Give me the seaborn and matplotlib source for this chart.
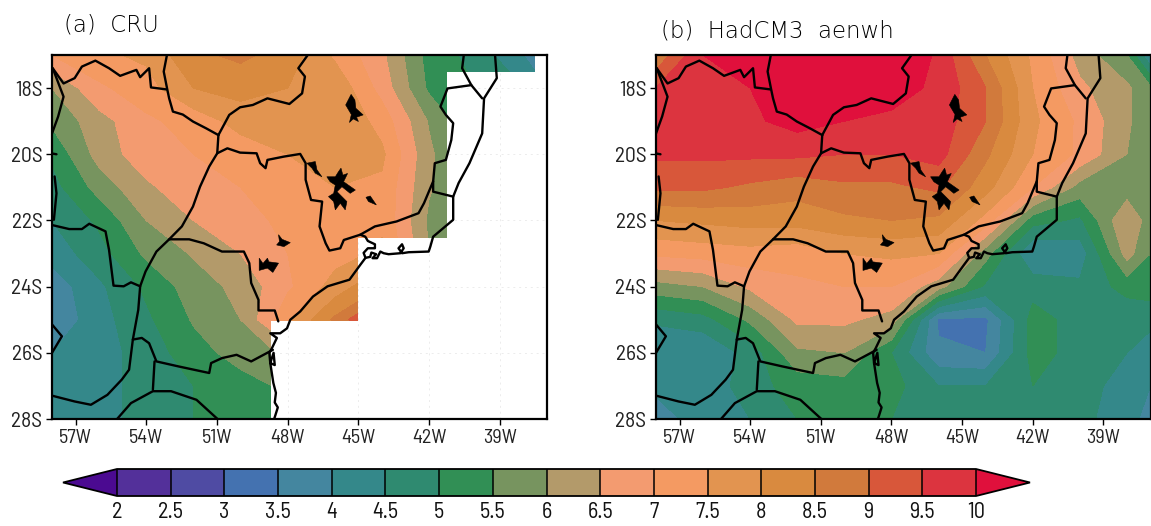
import numpy as np
import matplotlib
matplotlib.use('Agg')
import matplotlib.pyplot as plt
import seaborn as sns
from matplotlib.colors import ListedColormap, BoundaryNorm
from matplotlib.patches import Polygon

# grid nodes of the two fields
lons = [-58, -56, -54, -52, -50, -48, -46, -44, -42, -40, -38, -37]
lats = [-17, -18, -19, -20, -21, -22, -23, -24, -25, -26, -27, -28]

# precipitation values, one row per latitude
cru_values = [
    [7.0, 7.4, 7.6, 8.4, 8.6, 8.3, 7.4, 6.6, 5.3, 4.8, 4.0, 3.6],
    [6.0, 6.9, 7.3, 8.0, 8.2, 8.0, 7.9, 6.8, 5.4, 5.0, 4.5, 4.0],
    [5.6, 6.3, 6.9, 7.2, 7.7, 8.0, 8.0, 7.3, 5.95, 5.0, 4.6, 4.3],
    [5.1, 6.2, 6.8, 7.0, 7.2, 7.5, 7.9, 7.6, 6.1, 5.2, 5.0, 5.0],
    [4.8, 5.7, 6.4, 6.85, 7.0, 7.3, 7.5, 7.4, 6.05, 5.5, 5.0, 5.0],
    [4.5, 5.1, 6.0, 6.5, 6.85, 7.1, 7.4, 7.4, 5.9, 5.5, 5.0, 5.0],
    [4.2, 4.8, 5.6, 6.05, 6.5, 7.0, 7.3, 7.6, 6.0, 5.5, 5.0, 5.0],
    [3.7, 4.4, 5.1, 5.75, 6.15, 6.9, 7.7, 8.5, 6.0, 5.5, 5.0, 5.0],
    [3.6, 4.3, 4.9, 5.55, 6.0, 7.4, 8.6, 10.0, 6.0, 5.5, 5.0, 5.0],
    [4.0, 4.3, 4.7, 5.3, 5.7, 6.1, 7.0, 7.0, 6.0, 5.5, 5.0, 5.0],
    [4.2, 4.3, 4.7, 5.0, 5.3, 5.6, 6.0, 6.0, 6.0, 5.5, 5.0, 5.0],
    [4.0, 4.4, 4.6, 5.0, 5.2, 5.3, 5.5, 5.5, 5.5, 5.5, 5.0, 5.0],
]
hadcm3_values = [
    [8.6, 10.0, 10.1, 10.6, 10.7, 10.6, 9.9, 8.5, 7.4, 6.3, 5.5, 4.0],
    [9.5, 9.9, 10.0, 10.6, 10.5, 10.2, 9.9, 9.0, 7.5, 6.6, 6.1, 5.6],
    [9.6, 9.8, 9.9, 10.2, 10.0, 9.9, 9.8, 9.0, 7.6, 6.9, 6.1, 5.6],
    [9.6, 9.6, 9.6, 9.6, 9.5, 9.5, 9.7, 8.6, 7.5, 6.9, 6.0, 5.7],
    [9.1, 9.1, 8.9, 8.7, 8.9, 8.9, 9.1, 8.2, 7.0, 5.8, 5.7, 5.7],
    [8.0, 8.1, 8.2, 8.2, 8.4, 8.5, 8.4, 7.3, 5.2, 4.9, 6.5, 5.7],
    [7.1, 7.2, 7.3, 7.2, 7.5, 7.6, 7.5, 5.7, 4.0, 4.2, 6.2, 5.5],
    [5.8, 6.0, 6.6, 6.9, 7.0, 7.0, 6.2, 4.9, 4.8, 4.6, 5.2, 5.3],
    [4.6, 4.8, 5.6, 6.6, 6.6, 6.3, 3.4, 3.4, 5.2, 4.8, 4.6, 4.6],
    [4.0, 4.0, 4.7, 5.9, 6.0, 5.0, 3.6, 3.5, 5.2, 4.8, 4.5, 4.3],
    [4.1, 4.1, 4.8, 5.2, 5.3, 5.2, 4.5, 4.5, 5.0, 4.7, 4.3, 4.0],
    [3.8, 4.2, 4.5, 5.0, 5.1, 5.0, 4.7, 4.6, 4.8, 4.6, 4.3, 3.7],
]

levels = [2, 2.5, 3, 3.5, 4, 4.5, 5, 5.5, 6, 6.5, 7, 7.5, 8, 8.5, 9, 9.5, 10]
level_labels = ['2', '2.5', '3', '3.5', '4', '4.5', '5', '5.5', '6', '6.5',
                '7', '7.5', '8', '8.5', '9', '9.5', '10']
band_colors = ['#53309a', '#4f4ba3', '#4472b0', '#44869f', '#34888a', '#2f8a70',
               '#318f55', '#77945f', '#b39a6a', '#f39b70', '#f49a62', '#e29450',
               '#d98a3f', '#d17a3c', '#d8573a', '#dc343f']
under_color = '#4b0a91'
over_color = '#e0103c'

lon_ticks = [-57, -54, -51, -48, -45, -42, -39]
lon_labels = ['57W', '54W', '51W', '48W', '45W', '42W', '39W']
lat_ticks = [-18, -20, -22, -24, -26, -28]
lat_labels = ['18S', '20S', '22S', '24S', '26S', '28S']

# CRU only has data over land, this is the stepped edge of its grid
cru_domain = [(-58, -17), (-37.5, -17), (-37.5, -17.5), (-41.25, -17.5), (-41.25, -22.53),
              (-45, -22.53), (-45, -25.04), (-48.7, -25.04), (-48.7, -28), (-58, -28)]

# borders and coast, (lon, lat)
border_mt_ms = [(-57.97, -17.40), (-57.51, -17.86), (-57.04, -17.70), (-56.73, -17.35), (-56.16, -17.17),
                (-55.58, -17.40), (-55.11, -17.63), (-54.42, -17.45), (-54.26, -17.67), (-53.88, -17.40),
                (-53.80, -17.98), (-53.14, -18.04)]
border_go_ms = [(-53.11, -16.95), (-53.26, -17.50), (-53.11, -18.04), (-53.03, -18.31), (-52.87, -18.71),
                (-52.45, -18.80), (-52.02, -19.01), (-51.45, -19.22), (-50.94, -19.42)]
border_go_mg = [(-50.94, -19.42), (-50.48, -18.81), (-50.02, -18.58), (-49.48, -18.51), (-48.86, -18.31),
                (-47.93, -18.48), (-47.39, -18.16), (-47.27, -17.65), (-47.55, -17.40), (-47.10, -16.95)]
border_parana = [(-50.94, -19.42), (-50.99, -19.97), (-51.33, -20.37), (-51.72, -20.98), (-52.02, -21.58),
                 (-52.49, -22.18), (-53.03, -22.57), (-53.57, -22.94), (-54.03, -23.54), (-54.26, -23.99),
                 (-54.34, -24.70), (-54.57, -25.60), (-54.73, -26.51), (-55.04, -26.81), (-55.65, -27.27),
                 (-56.35, -27.57), (-57.04, -27.47), (-57.97, -27.30)]
border_sp_mg = [(-50.99, -19.97), (-50.56, -19.82), (-50.02, -19.95), (-49.32, -19.97), (-49.17, -20.27),
                (-48.94, -20.42), (-48.86, -20.17), (-48.16, -20.07), (-47.47, -19.99), (-47.24, -20.27),
                (-47.24, -20.77), (-47.01, -21.38), (-46.54, -21.43), (-46.65, -22.18), (-46.39, -22.69),
                (-46.23, -22.91), (-45.77, -22.84), (-45.62, -22.59), (-44.92, -22.43), (-44.30, -22.18),
                (-43.38, -22.03), (-42.45, -21.78), (-42.22, -21.48), (-41.83, -20.82), (-41.76, -20.27),
                (-41.29, -20.17), (-41.06, -19.57), (-40.98, -19.06), (-41.29, -18.81), (-41.52, -18.56),
                (-41.22, -18.01), (-40.21, -17.91), (-39.75, -18.31)]
coast = [(-39.21, -16.95), (-39.13, -17.70), (-39.67, -18.31), (-39.75, -19.37), (-40.29, -20.27),
         (-40.75, -20.87), (-40.98, -21.28), (-40.98, -21.98), (-41.83, -22.49), (-41.95, -22.79),
         (-42.02, -22.94), (-42.87, -22.96), (-43.15, -22.99), (-43.30, -22.84), (-43.15, -22.72),
         (-43.08, -22.84), (-43.22, -22.99), (-43.72, -23.02), (-43.93, -22.99), (-44.07, -22.94),
         (-44.21, -23.14), (-44.40, -23.14), (-44.25, -23.02), (-44.45, -22.97), (-44.50, -23.10),
         (-44.70, -23.13), (-44.92, -23.34), (-45.38, -23.79), (-46.31, -23.99), (-46.93, -24.30),
         (-47.47, -24.75), (-47.89, -25.00), (-48.03, -25.26), (-48.32, -25.41), (-48.74, -25.41),
         (-48.46, -25.55), (-48.67, -25.86), (-48.78, -26.00), (-48.74, -26.31), (-48.55, -26.37),
         (-48.60, -26.00), (-48.74, -26.31), (-48.61, -26.91), (-48.50, -27.21), (-48.55, -27.50),
         (-48.42, -27.65), (-48.53, -27.90), (-48.60, -28.05)]
border_ba = [(-40.52, -16.95), (-40.60, -17.40), (-40.21, -17.91)]
border_rj_es = [(-41.83, -20.82), (-41.83, -21.13), (-40.98, -21.28)]
border_sp_rj = [(-44.92, -22.43), (-44.71, -22.49), (-44.60, -22.62), (-44.30, -22.72), (-44.30, -22.84),
                (-44.60, -22.84), (-44.78, -22.98), (-44.70, -23.13)]
border_sp_pr = [(-53.03, -22.57), (-52.18, -22.57), (-51.56, -22.69), (-50.79, -22.94), (-49.86, -22.94),
                (-49.63, -23.29), (-49.55, -23.89), (-49.24, -24.40), (-49.24, -24.72), (-48.55, -24.72),
                (-48.40, -25.05)]
border_ms_py = [(-58.05, -22.13), (-57.27, -22.26), (-56.73, -22.26), (-56.42, -22.10), (-55.73, -22.33),
                (-55.58, -22.89), (-55.39, -23.97), (-54.96, -23.99), (-54.65, -23.87), (-54.26, -23.99)]
border_bolivia = [(-57.97, -17.40), (-57.51, -18.26), (-57.74, -18.86), (-58.05, -19.47)]
border_west = [(-58.05, -19.97), (-57.81, -20.00)]
border_west2 = [(-57.89, -20.67), (-57.81, -21.18), (-57.92, -21.98)]
border_arg = [(-58.05, -25.10), (-57.58, -25.50), (-58.05, -26.06)]
border_pr_sc = [(-48.63, -25.91), (-49.55, -26.26), (-50.17, -26.06), (-50.79, -26.16), (-51.25, -26.31),
                (-51.33, -26.61), (-52.64, -26.41), (-53.57, -26.26), (-53.88, -25.71), (-54.19, -25.55),
                (-54.57, -25.60)]
border_sc_rs = [(-53.65, -26.26), (-53.72, -27.11)]
border_rs = [(-55.30, -28.05), (-54.65, -27.52), (-53.72, -27.16), (-52.95, -27.16), (-51.87, -27.42),
             (-50.90, -28.05)]
borders = [border_mt_ms, border_go_ms, border_go_mg, border_parana, border_sp_mg, coast, border_ba,
           border_rj_es, border_sp_rj, border_sp_pr, border_ms_py, border_bolivia, border_west,
           border_west2, border_arg, border_pr_sc, border_sc_rs, border_rs]

# reservoirs, drawn filled
lake_tres_marias = [(-45.31, -18.19), (-45.15, -18.36), (-45.11, -18.61), (-44.80, -18.81), (-45.08, -18.88),
                    (-45.00, -19.01), (-45.22, -18.93), (-45.38, -19.04), (-45.30, -18.80), (-45.54, -18.51)]
lake_furnas = [(-46.34, -20.68), (-45.98, -20.68), (-45.84, -20.52), (-45.74, -20.42), (-45.66, -20.63),
               (-45.46, -20.58), (-45.63, -20.83), (-45.13, -21.08), (-45.35, -21.18), (-45.70, -20.98),
               (-45.91, -21.13), (-45.70, -21.28), (-45.49, -21.43), (-45.56, -21.68), (-45.77, -21.48),
               (-45.98, -21.68), (-46.05, -21.43), (-46.27, -21.28), (-46.05, -21.18), (-45.98, -20.93),
               (-46.20, -20.83)]
lake_peixoto = [(-47.19, -20.27), (-46.83, -20.22), (-46.76, -20.47), (-46.55, -20.68), (-46.83, -20.57),
                (-46.97, -20.42)]
lake_camargos = [(-44.68, -21.30), (-44.50, -21.26), (-44.24, -21.53), (-44.47, -21.46), (-44.57, -21.43)]
lake_barra_bonita = [(-48.39, -22.43), (-48.24, -22.57), (-47.89, -22.67), (-48.16, -22.79), (-48.47, -22.74),
                     (-48.35, -22.64)]
lake_jurumirim = [(-49.21, -23.14), (-49.05, -23.30), (-48.86, -23.14), (-48.80, -23.25), (-48.39, -23.29),
                  (-48.63, -23.57), (-48.86, -23.44), (-49.21, -23.51)]
lakes = [lake_tres_marias, lake_furnas, lake_peixoto, lake_camargos, lake_barra_bonita, lake_jurumirim]

NARROW = ['Barlow Semi Condensed', 'Liberation Sans']


def draw_map(ax, values, cmap, norm, domain=None):
    # faint dotted graticule only shows where there is no data
    for lon in lon_ticks:
        ax.axvline(lon, color='#ececec', lw=0.7, ls=(0, (2, 4)), zorder=0)
    for lat in lat_ticks:
        ax.axhline(lat, color='#ececec', lw=0.7, ls=(0, (2, 4)), zorder=0)

    cs = ax.contourf(lons, lats, np.array(values), levels=levels, cmap=cmap, norm=norm,
                     extend='both', zorder=1)
    if domain is not None:
        cs.set_clip_path(Polygon(domain, transform=ax.transData))

    for line in borders:
        xs, ys = zip(*line)
        sns.lineplot(x=list(xs), y=list(ys), sort=False, estimator=None, color='black',
                     linewidth=1.7, ax=ax, zorder=3)
    for lake in lakes:
        xs, ys = zip(*lake)
        ax.fill(xs, ys, color='black', lw=0.4, zorder=3)

    ax.set_xlim(-58, -37)
    ax.set_ylim(-28, -17)
    ax.set_xticks(lon_ticks)
    ax.set_xticklabels(lon_labels, family=NARROW, fontsize=14.5, color='#222222')
    ax.set_yticks(lat_ticks)
    ax.set_yticklabels(lat_labels, family=NARROW, fontsize=15.5, color='#222222')
    ax.tick_params(direction='out', length=4, width=1, color='black', pad=3, bottom=True, left=True)
    ax.set_xlabel('')
    ax.set_ylabel('')
    ax.grid(False)
    for spine in ax.spines.values():
        spine.set_visible(True)
        spine.set_color('black')
        spine.set_linewidth(1.6)
        spine.set_zorder(5)


def main():
    sns.set_theme(style='white')
    W, H = 1151, 526
    fig = plt.figure(figsize=(W / 100, H / 100), dpi=100, facecolor='white')

    cmap = ListedColormap(sns.color_palette(band_colors))
    cmap.set_under(under_color)
    cmap.set_over(over_color)
    norm = BoundaryNorm(levels, cmap.N)

    ax_a = fig.add_axes([52 / W, 1 - 419 / H, 495 / W, 364 / H])
    ax_b = fig.add_axes([656 / W, 1 - 419 / H, 494.5 / W, 364 / H])
    draw_map(ax_a, cru_values, cmap, norm, domain=cru_domain)
    draw_map(ax_b, hadcm3_values, cmap, norm)

    fig.text(64 / W, 1 - 31 / H, '(a)  CRU', family='DejaVu Sans', weight=200, fontsize=16.5, color='black')
    fig.text(661 / W, 1 - 37 / H, '(b)  HadCM3  aenwh', family='DejaVu Sans', weight=200, fontsize=16.5,
             color='black')

    cax = fig.add_axes([63 / W, 1 - 496 / H, 967 / W, 27 / H])
    sm = plt.cm.ScalarMappable(norm=norm, cmap=cmap)
    cb = fig.colorbar(sm, cax=cax, orientation='horizontal', extend='both', extendfrac=54 / 859,
                      drawedges=True, ticks=levels, spacing='uniform')
    cb.ax.set_xticklabels(level_labels, family=NARROW, fontsize=16, color='#111111')
    cb.ax.tick_params(length=0, pad=4)
    cb.outline.set_edgecolor('black')
    cb.outline.set_linewidth(1.3)
    cb.dividers.set_color('black')
    cb.dividers.set_linewidth(1.1)

    fig.savefig('out.png', dpi=100)
    plt.close(fig)


if __name__ == '__main__':
    main()
